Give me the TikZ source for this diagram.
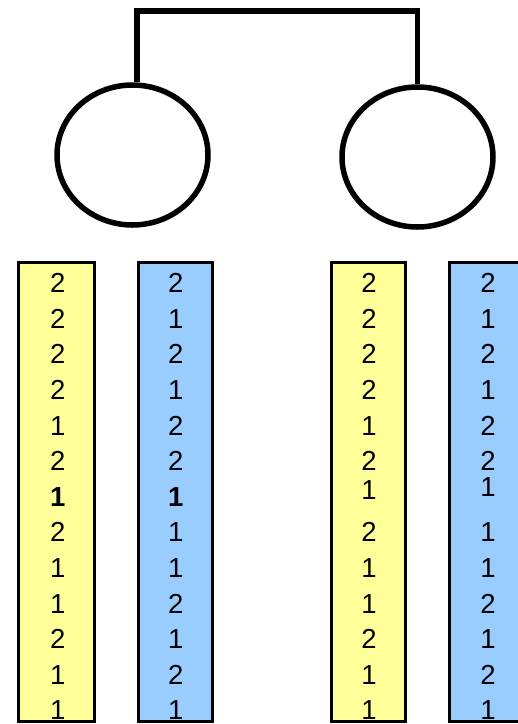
\documentclass[tikz,border=0pt]{standalone}
\usepackage{fontspec}
\setmainfont{Liberation Sans}
\usetikzlibrary{shapes.geometric}
\definecolor{colYellow}{HTML}{FFFF99}
\definecolor{colBlue}{HTML}{99CCFF}

\begin{document}
\begin{tikzpicture}[x=1pt, y=-1pt,
    parent/.style={draw, ellipse, line width=5.5pt, minimum width=151pt,
                   minimum height=140pt, inner sep=0pt},
    col/.style={draw, line width=3.3pt, minimum height=459pt, inner sep=0pt},
    digits/.style={anchor=north, align=center, inner sep=0pt,
                   font=\fontsize{27.5}{35.6}\selectfont},
    link/.style={line width=5.5pt},
]
\clip (0,0) rectangle (518,724);
% parents
\node[parent] (lpar) at (132.5,155) {};
\node[parent] (rpar) at (417.5,157) {};
\coordinate (bar) at (0,11);
\coordinate (ltop) at ([xshift=4.5pt]lpar.north);
\draw[link] (ltop) -- (ltop |- bar) -- (rpar.north |- bar) -- (rpar.north);

% columns of the left parent
\node[col, fill=colYellow, minimum width=76pt] (lyel) at (56.5,492) {};
\node[col, fill=colBlue, minimum width=74pt] (lblu) at (175.5,492) {};
\node[digits] (lyeld) at (57.7,273.3)
    {2\\2\\2\\2\\1\\2\\\textbf{1}\\2\\1\\1\\2\\1\\1};
\node[digits] (lblud) at (175.7,273.3)
    {2\\1\\2\\1\\2\\2\\\textbf{1}\\1\\1\\2\\1\\2\\1};

% columns of the right parent
\node[col, fill=colYellow, minimum width=74pt] (ryel) at (368.5,492) {};
\node[col, fill=colBlue, minimum width=78pt] (rblu) at (488.5,492) {};
\node[digits] (ryeld) at (369,273.3)
    {2\\2\\2\\2\\1\\2\\[-7pt]1\\[7pt]2\\1\\1\\2\\1\\1};
\node[digits] (rblud) at (488,273.3)
    {2\\1\\2\\1\\2\\2\\[-10pt]1\\[10pt]1\\1\\2\\1\\2\\1};
\end{tikzpicture}
\end{document}
